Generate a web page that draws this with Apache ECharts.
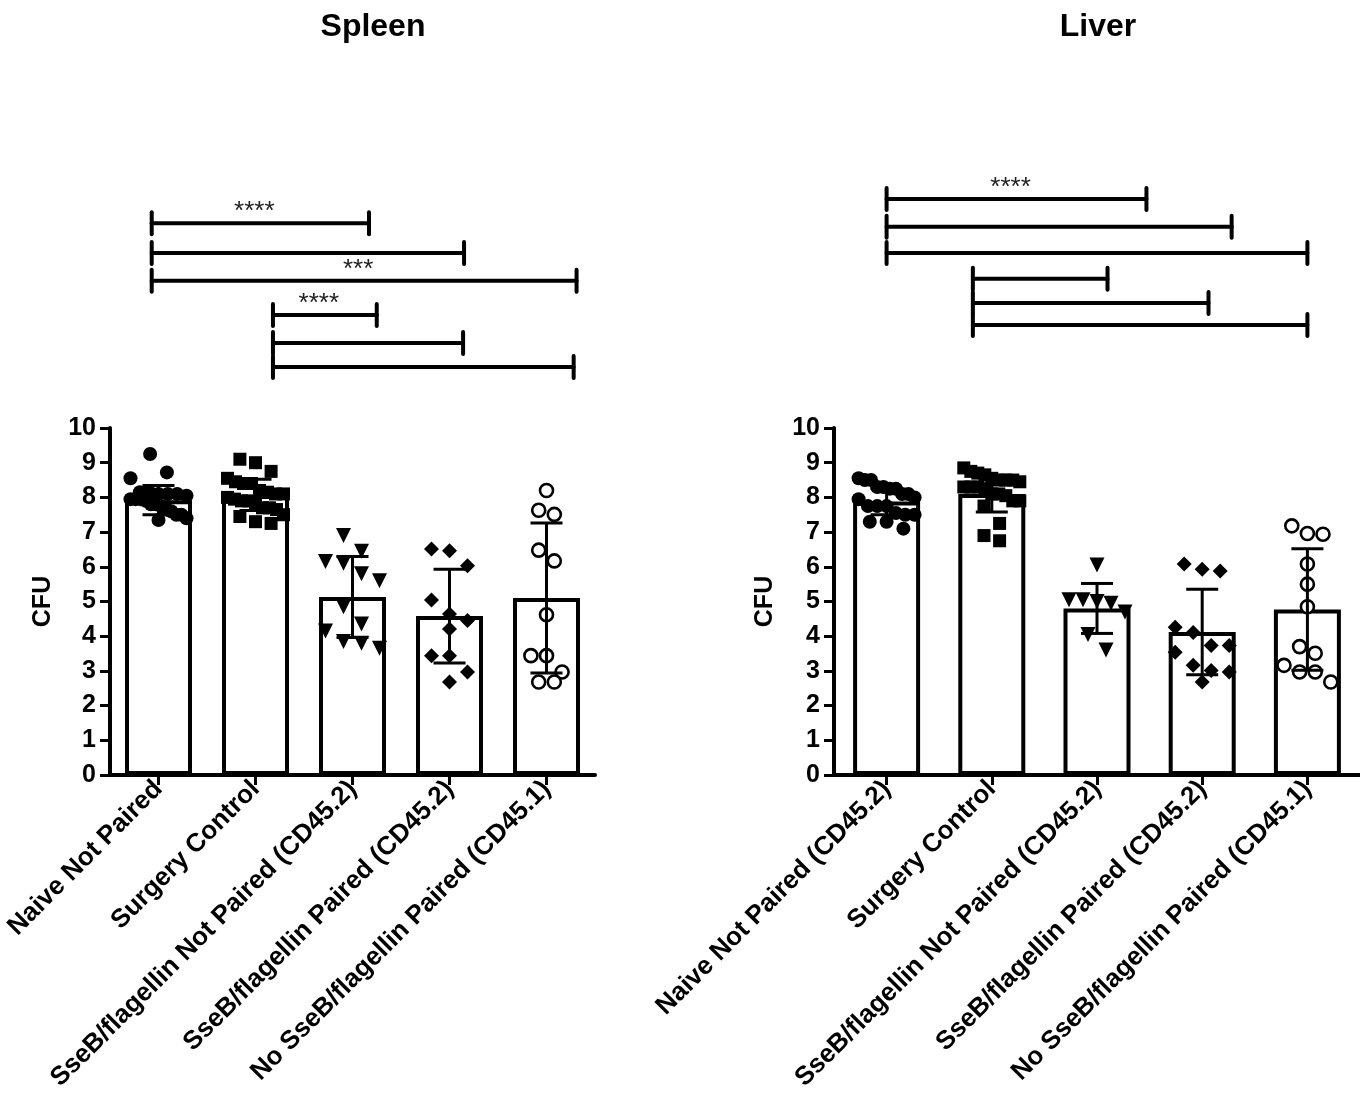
<!DOCTYPE html>
<html>
<head>
<meta charset="utf-8">
<script src="https://cdn.jsdelivr.net/npm/echarts@6/dist/echarts.min.js"></script>
<style>
  html, body { margin: 0; padding: 0; background: #fff; }
  #chart { width: 1360px; height: 1108px; }
</style>
</head>
<body>
<div id="chart"></div>
<script>
// ---------------- DATA ----------------
const spleenCategories = [
  'Naive Not Paired',
  'Surgery Control',
  'SseB/flagellin Not Paired (CD45.2)',
  'SseB/flagellin Paired (CD45.2)',
  'No SseB/flagellin Paired (CD45.1)'
];
const liverCategories = [
  'Naive Not Paired (CD45.2)',
  'Surgery Control',
  'SseB/flagellin Not Paired (CD45.2)',
  'SseB/flagellin Paired (CD45.2)',
  'No SseB/flagellin Paired (CD45.1)'
];
const yTicks = [0, 1, 2, 3, 4, 5, 6, 7, 8, 9, 10];

// bar means and standard deviations
const spleenMean = [7.92, 8.07, 5.13, 4.58, 5.10];
const spleenSD   = [0.42, 0.45, 1.17, 1.35, 2.16];
const liverMean  = [7.88, 8.10, 4.80, 4.12, 4.77];
const liverSD    = [0.38, 0.52, 0.72, 1.23, 1.75];

// individual points (CFU, log scale values)
const spleenNaive     = [9.25, 8.72, 8.55, 8.15, 8.15, 8.10, 8.10, 8.10, 8.05, 7.95, 7.95, 7.90, 7.95, 7.80, 7.80, 7.75, 7.65, 7.60, 7.50, 7.50, 7.40, 7.35];
const spleenSurgery   = [9.10, 9.00, 8.75, 8.55, 8.40, 8.45, 8.40, 8.10, 8.15, 8.20, 8.10, 8.00, 7.90, 7.95, 7.85, 7.90, 7.70, 7.65, 7.70, 7.50, 7.45, 7.30, 7.25];
const spleenNotPaired = [6.90, 6.45, 6.15, 6.10, 5.80, 5.60, 4.85, 4.35, 4.15, 3.85, 3.65, 3.80];
const spleenPaired    = [6.51, 6.46, 6.03, 5.04, 4.64, 4.45, 4.21, 3.44, 3.44, 2.97, 2.68];
const spleenNoSseB    = [8.20, 7.51, 7.63, 6.48, 6.17, 4.62, 3.44, 3.44, 2.97, 2.68, 2.68];

const liverNaive     = [8.55, 8.50, 8.50, 8.25, 8.30, 8.30, 8.25, 8.10, 8.10, 8.00, 7.95, 7.75, 7.75, 7.75, 7.50, 7.50, 7.55, 7.30, 7.30, 7.10];
const liverSurgery   = [8.70, 8.75, 8.85, 8.65, 8.50, 8.50, 8.55, 8.45, 8.50, 8.30, 8.30, 8.25, 8.30, 8.10, 8.10, 8.05, 7.90, 7.90, 7.75, 7.25, 6.75, 6.90];
const liverNotPaired = [6.05, 5.05, 4.95, 5.00, 5.05, 4.70, 4.05, 3.60];
const liverPaired    = [5.93, 5.88, 6.08, 4.11, 4.26, 3.73, 3.54, 3.73, 2.97, 3.01, 3.16, 2.68];
const liverNoSseB    = [7.18, 6.94, 6.96, 6.08, 5.50, 4.85, 3.70, 3.51, 2.97, 2.97, 2.68, 3.16];

// significance brackets: group positions (category units), height (CFU units), label
const spleenBrackets = [
  { from: -0.07, to: 2.17, level: 15.90, label: '****' },
  { from: -0.07, to: 3.15, level: 15.04, label: '' },
  { from: -0.07, to: 4.31, level: 14.24, label: '***' },
  { from: 1.18,  to: 2.25, level: 13.26, label: '****' },
  { from: 1.18,  to: 3.14, level: 12.45, label: '' },
  { from: 1.18,  to: 4.28, level: 11.76, label: '' }
];
const liverBrackets = [
  { from: 0.00, to: 2.47, level: 16.60, label: '****' },
  { from: 0.00, to: 3.28, level: 15.80, label: '' },
  { from: 0.00, to: 4.00, level: 15.04, label: '' },
  { from: 0.82, to: 2.10, level: 14.30, label: '' },
  { from: 0.82, to: 3.06, level: 13.60, label: '' },
  { from: 0.82, to: 4.00, level: 12.97, label: '' }
];

// ---------------- LAYOUT / STYLE ----------------
const FONT = '"Liberation Sans", Arial, Helvetica, sans-serif';
const PLOT_TOP = 428, PLOT_H = 347;
const panels = [
  { left: 110, width: 485, cats: spleenCategories, mean: spleenMean, sd: spleenSD,
    groups: [spleenNaive, spleenSurgery, spleenNotPaired, spleenPaired, spleenNoSseB],
    brackets: spleenBrackets, title: 'Spleen', titleX: 368, nameGap: 54 },
  { left: 834, width: 526, cats: liverCategories, mean: liverMean, sd: liverSD,
    groups: [liverNaive, liverSurgery, liverNotPaired, liverPaired, liverNoSseB],
    brackets: liverBrackets, title: 'Liver', titleX: 1093, nameGap: 56 }
];
const markerStyles = [
  { symbol: 'circle', size: 14, rotate: 0, fill: '#000', border: 0 },
  { symbol: 'rect', size: 13, rotate: 0, fill: '#000', border: 0 },
  { symbol: 'triangle', size: 15, rotate: 180, fill: '#000', border: 0 },
  { symbol: 'diamond', size: 15, rotate: 0, fill: '#000', border: 0 },
  { symbol: 'circle', size: 13, rotate: 0, fill: '#fff', border: 2.6 }
];

// Simple binned "swarm" arrangement of points (pixel offsets)
function swarmOffsets(values, markerPx, pxPerUnit, maxHalfPx) {
  const order = values.map((v, i) => [v, i]).sort((a, b) => b[0] - a[0]);
  const binH = markerPx * 1.4 / pxPerUnit;
  const res = new Array(values.length).fill(0);
  let k = 0;
  while (k < order.length) {
    const start = order[k][0];
    const row = [];
    while (k < order.length && start - order[k][0] < binH) { row.push(order[k]); k++; }
    const n = row.length;
    const step = n > 1 ? Math.min(markerPx * 1.2, 2 * maxHalfPx / (n - 1)) : 0;
    row.forEach((p, j) => { res[p[1]] = (j - (n - 1) / 2) * step; });
  }
  return res;
}

const grids = [], xAxes = [], yAxes = [], series = [], titles = [];
panels.forEach((p, pi) => {
  const band = p.width / p.cats.length;
  const pxPerUnit = PLOT_H / 10;
  grids.push({ left: p.left, top: PLOT_TOP, width: p.width, height: PLOT_H, containLabel: false });
  titles.push({
    text: p.title, left: p.titleX, top: 6, textAlign: 'center',
    textStyle: { fontFamily: FONT, fontWeight: 'bold', fontSize: 32, color: '#000' }
  });
  const catAxisIdx = xAxes.length;
  xAxes.push({
    type: 'category', gridIndex: pi, data: p.cats,
    axisLine: { show: true, onZero: false, lineStyle: { color: '#000', width: 4 } },
    axisTick: { show: true, alignWithLabel: true, length: 10, lineStyle: { color: '#000', width: 3 } },
    axisLabel: { rotate: 45, interval: 0, margin: 10, color: '#000', fontFamily: FONT, fontWeight: 'bold', fontSize: 26 },
    splitLine: { show: false }
  });
  const valAxisIdx = xAxes.length;
  xAxes.push({ type: 'value', gridIndex: pi, min: -0.5, max: p.cats.length - 0.5, show: false,
               axisLine: { onZero: false }, splitLine: { show: false } });
  yAxes.push({
    type: 'value', gridIndex: pi, min: yTicks[0], max: yTicks[yTicks.length - 1], interval: 1,
    name: 'CFU', nameLocation: 'middle', nameRotate: 90, nameGap: p.nameGap,
    nameTextStyle: { fontFamily: FONT, fontWeight: 'bold', fontSize: 25, color: '#000' },
    axisLine: { show: true, onZero: false, lineStyle: { color: '#000', width: 4 } },
    axisTick: { show: true, length: 10, lineStyle: { color: '#000', width: 3 } },
    axisLabel: { margin: 14, color: '#000', fontFamily: FONT, fontWeight: 'bold', fontSize: 25 },
    splitLine: { show: false }
  });

  // bars
  series.push({
    type: 'bar', xAxisIndex: catAxisIdx, yAxisIndex: pi, data: p.mean, barWidth: 67, z: 2,
    itemStyle: { color: '#fff', borderColor: '#000', borderWidth: 4 }
  });

  // points
  p.groups.forEach((vals, gi) => {
    const ms = markerStyles[gi];
    const offs = swarmOffsets(vals, ms.size, pxPerUnit, 28);
    series.push({
      type: 'scatter', xAxisIndex: valAxisIdx, yAxisIndex: pi, z: 3,
      symbol: ms.symbol, symbolSize: ms.size, symbolRotate: ms.rotate,
      itemStyle: { color: ms.fill, borderColor: '#000', borderWidth: ms.border, opacity: 1 },
      data: vals.map((v, j) => [gi + offs[j] / band, v])
    });
  });

  // error bars (mean ± SD)
  series.push({
    type: 'custom', xAxisIndex: valAxisIdx, yAxisIndex: pi, z: 4,
    encode: { x: 0, y: 1 },
    data: p.mean.map((m, i) => [i, m, p.sd[i]]),
    renderItem: function (params, api) {
      const x = api.value(0), m = api.value(1), s = api.value(2);
      const top = api.coord([x, m + s]);
      const bot = api.coord([x, m - s]);
      const cap = 16;
      const st = { stroke: '#000', lineWidth: 3 };
      return {
        type: 'group', children: [
          { type: 'line', shape: { x1: top[0], y1: top[1], x2: bot[0], y2: bot[1] }, style: st },
          { type: 'line', shape: { x1: top[0] - cap, y1: top[1], x2: top[0] + cap, y2: top[1] }, style: st },
          { type: 'line', shape: { x1: bot[0] - cap, y1: bot[1], x2: bot[0] + cap, y2: bot[1] }, style: st }
        ]
      };
    }
  });

  // significance brackets
  const br = p.brackets;
  series.push({
    type: 'custom', xAxisIndex: valAxisIdx, yAxisIndex: pi, z: 5, clip: false,
    encode: { x: [0, 1], y: 2 },
    data: br.map(b => [b.from, b.to, b.level]),
    renderItem: function (params, api) {
      const a = api.coord([api.value(0), api.value(2)]);
      const b = api.coord([api.value(1), api.value(2)]);
      const h = 11;
      const st = { stroke: '#000', lineWidth: 4, lineCap: 'round' };
      const children = [
        { type: 'line', shape: { x1: a[0], y1: a[1], x2: b[0], y2: b[1] }, style: st },
        { type: 'line', shape: { x1: a[0], y1: a[1] - h, x2: a[0], y2: a[1] + h }, style: st },
        { type: 'line', shape: { x1: b[0], y1: b[1] - h, x2: b[0], y2: b[1] + h }, style: st }
      ];
      const label = br[params.dataIndex].label;
      if (label) {
        children.push({
          type: 'text',
          style: { text: label, x: (a[0] + b[0]) / 2 - 6, y: a[1] + 2, align: 'center', verticalAlign: 'bottom',
                   fill: '#222', font: '26px ' + FONT }
        });
      }
      return { type: 'group', children: children };
    }
  });
});

const chart = echarts.init(document.getElementById('chart'), null, { renderer: 'canvas' });
chart.setOption({
  backgroundColor: '#fff',
  animation: false,
  title: titles,
  grid: grids,
  xAxis: xAxes,
  yAxis: yAxes,
  series: series
});
</script>
</body>
</html>
